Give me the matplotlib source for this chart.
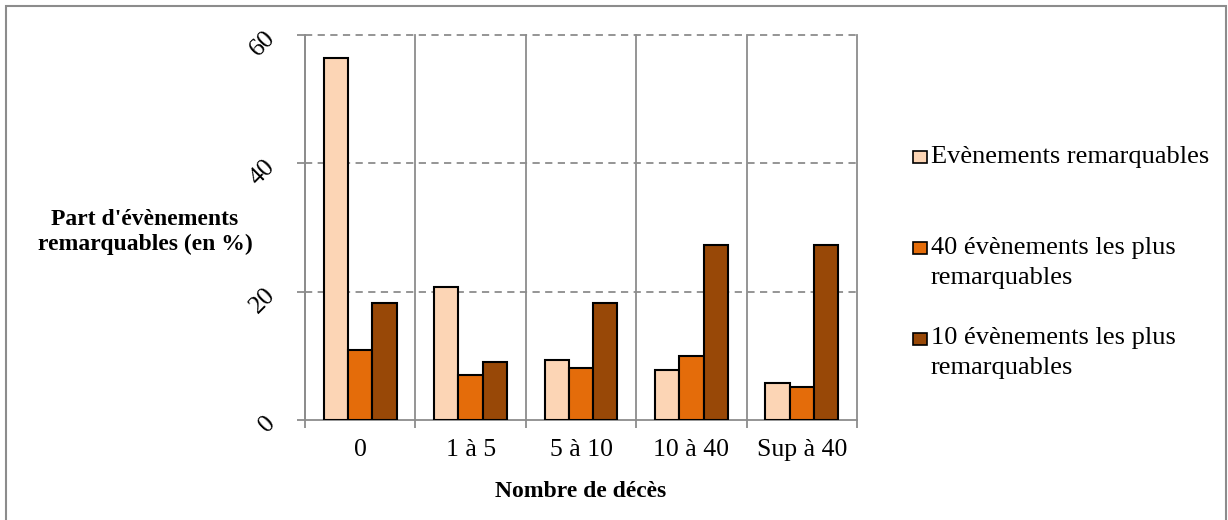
import matplotlib.pyplot as plt
import numpy as np
from matplotlib.patches import Rectangle

plt.rcParams['font.family'] = ['Liberation Serif', 'DejaVu Serif']

categories = ['0', '1 à 5', '5 à 10', '10 à 40', 'Sup à 40']
evenements = [56.4, 20.7, 9.3, 7.8, 5.8]
top40 = [10.9, 7.0, 8.1, 10.0, 5.1]
top10 = [18.2, 9.0, 18.2, 27.3, 27.3]
series_names = ['Evènements remarquables',
                '40 évènements les plus\nremarquables',
                '10 évènements les plus\nremarquables']
colors = ['#FCD5B5', '#E46C0A', '#984807']
yticks = [0, 20, 40, 60]

fig = plt.figure(figsize=(12.28, 5.2), dpi=100)
ax = fig.add_axes([305 / 1228, 100 / 520, 552 / 1228, 385 / 520])

x = np.arange(len(categories))
w = 0.22
for i, vals in enumerate([evenements, top40, top10]):
    ax.bar(x + (i - 1) * w, vals, width=w, color=colors[i],
           edgecolor='black', linewidth=1.5, zorder=3)

ax.set_xlim(-0.5, len(categories) - 0.5)
ax.set_ylim(0, 60)

# grille
for b in np.arange(-0.5, len(categories), 1.0):
    ax.axvline(b, color='#8c8c8c', linewidth=1.3, zorder=1, clip_on=False)
for t in yticks[1:]:
    ax.axhline(t, color='#8c8c8c', linewidth=1.3, linestyle=(0, (4, 3)), zorder=1,
               clip_on=False)

for s in ['top', 'right']:
    ax.spines[s].set_visible(False)
for s in ['left', 'bottom']:
    ax.spines[s].set_color('#8c8c8c')
    ax.spines[s].set_linewidth(1.3)

ax.set_xticks(np.arange(-0.5, len(categories), 1.0))
ax.set_xticklabels([])
ax.set_xticks(x, minor=True)
ax.set_xticklabels(categories, minor=True, fontsize=18.5)
ax.tick_params(axis='x', which='major', length=6, color='#8c8c8c', width=1.3)
ax.tick_params(axis='x', which='minor', length=0, pad=14)

ax.set_yticks(yticks)
ax.set_yticklabels([str(t) for t in yticks], fontsize=18.5, rotation=45,
                   rotation_mode='anchor', ha='right', va='center')
ax.tick_params(axis='y', length=6, color='#8c8c8c', width=1.3, pad=18)

ax.set_xlabel('Nombre de décès', fontsize=17, fontweight='bold', labelpad=14)
fig.text(145 / 1228, 1 - 232 / 520, "Part d'évènements\nremarquables (en %)",
         fontsize=17, fontweight='bold', ha='center', va='center', linespacing=1.25)

# légende : carré aligné sur la première ligne du texte
leg_text_y = [157, 263, 353]
leg_box_y = [157, 248, 339]
for name, c, ty, by in zip(series_names, colors, leg_text_y, leg_box_y):
    fig.patches.append(Rectangle((913 / 1228, 1 - (by + 6) / 520), 14 / 1228, 12 / 520,
                                 transform=fig.transFigure, facecolor=c,
                                 edgecolor='black', linewidth=1.2))
    fig.text(931 / 1228, 1 - ty / 520, name, fontsize=19, ha='left', va='center',
             linespacing=1.5)

# cadre
fig.patches.append(Rectangle((6 / 1228, -0.05), 1220 / 1228, 1.05 - 6 / 520,
                             transform=fig.transFigure, fill=False,
                             edgecolor='#8c8c8c', linewidth=1.5))

fig.savefig('out.png', dpi=100)
